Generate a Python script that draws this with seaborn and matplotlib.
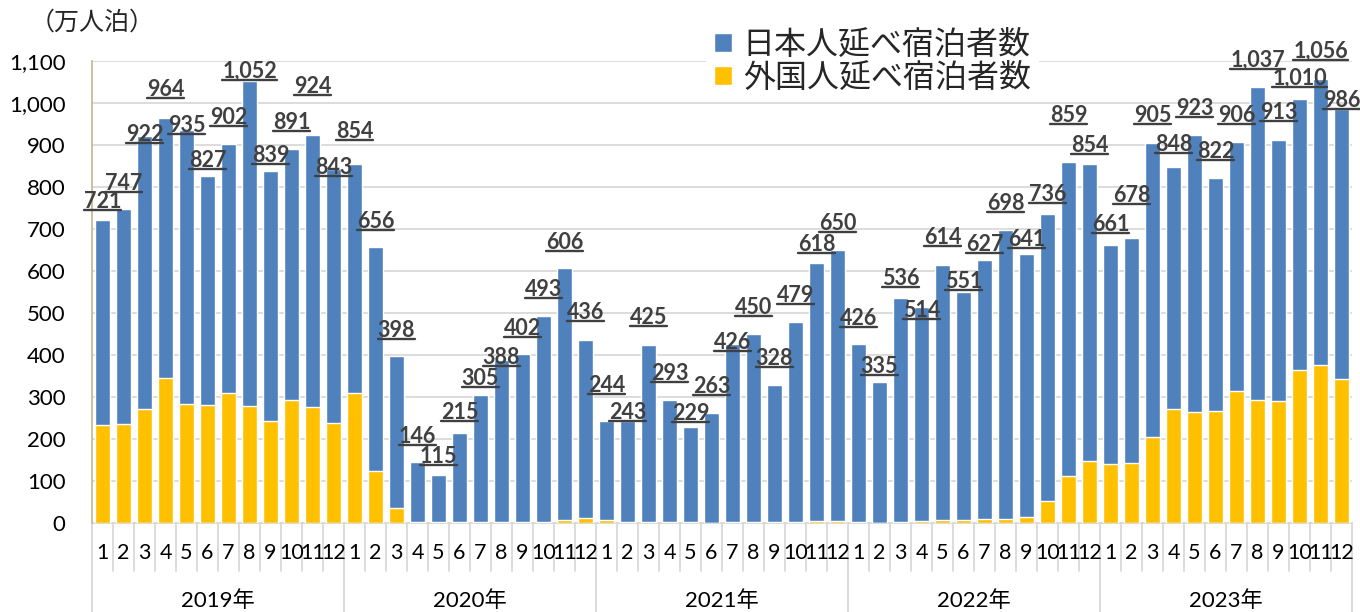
import numpy as np
import pandas as pd
import matplotlib
matplotlib.use("Agg")
import matplotlib.pyplot as plt
import matplotlib.transforms as mtransforms
from matplotlib.patches import Patch
from matplotlib.lines import Line2D
import seaborn as sns

sns.set_style("white")
plt.rcParams["font.family"] = ["Lato", "Noto Sans CJK JP", "DejaVu Sans"]

# ------------------------------------------------------------------
# data (万人泊)
# ------------------------------------------------------------------
years = ["2019年", "2020年", "2021年", "2022年", "2023年"]
months = list(range(1, 13))

total_2019 = [721, 747, 922, 964, 935, 827, 902, 1052, 839, 891, 924, 843]
total_2020 = [854, 656, 398, 146, 115, 215, 305, 388, 402, 493, 606, 436]
total_2021 = [244, 243, 425, 293, 229, 263, 426, 450, 328, 479, 618, 650]
total_2022 = [426, 335, 536, 514, 614, 551, 627, 698, 641, 736, 859, 854]
total_2023 = [661, 678, 905, 848, 923, 822, 906, 1037, 913, 1010, 1056, 986]

foreign_2019 = [233, 236, 271, 345, 284, 280, 310, 278, 243, 293, 276, 239]
foreign_2020 = [309, 125, 35, 3, 2, 2, 2, 2, 2, 3, 8, 12]
foreign_2021 = [7, 2, 3, 2, 2, 1, 2, 2, 2, 3, 4, 4]
foreign_2022 = [3, 1, 3, 5, 8, 7, 9, 10, 15, 52, 112, 148]
foreign_2023 = [140, 143, 205, 271, 264, 267, 314, 293, 291, 364, 376, 343]

# the data labels were nudged by hand in the original; vertical offset of
# each label's underline above its bar top (same units as the values)
label_offset = [
    19, 36, -21, 43, -14, 12, 38, -2, 10, 38, 90, -21,
    52, 37, 36, 36, 19, 24, 14, -19, 36, 38, 37, 40,
    58, -5, 39, 38, 7, 37, -21, 38, 38, 38, 19, 38,
    36, 12, 21, -33, 40, 0, 12, 38, 10, 21, 86, 19,
    24, 76, 40, 29, 40, 38, 40, 39, 39, 24, 42, -5,
]

totals = total_2019 + total_2020 + total_2021 + total_2022 + total_2023
foreign = foreign_2019 + foreign_2020 + foreign_2021 + foreign_2022 + foreign_2023

df = pd.DataFrame({
    "year": np.repeat(years, 12),
    "month": months * len(years),
    "total": totals,
    "foreign": foreign,
})
df["key"] = df["year"] + "-" + df["month"].astype(str)

BLUE = "#4F81BD"
YELLOW = "#FFC000"
LABEL = "#404040"
GRID = "#D9D9D9"
TAN = "#C4BD97"

# ------------------------------------------------------------------
# figure
# ------------------------------------------------------------------
W, H = 1360, 612
fig = plt.figure(figsize=(W / 100, H / 100), dpi=100)
ax = fig.add_axes([92 / W, (H - 523) / H, (1352 - 92) / W, (523 - 61) / H])

# stacked bars: total (blue) first, foreign (yellow) drawn over its base
sns.barplot(data=df, x="key", y="total", color=BLUE, saturation=1,
            width=0.67, ax=ax, zorder=2)
sns.barplot(data=df, x="key", y="foreign", color=YELLOW, saturation=1,
            width=0.67, ax=ax, zorder=3)

ax.set_xlim(-0.5, len(df) - 0.5)
ax.set_ylim(0, 1100)
ax.set_yticks(range(0, 1101, 100))
ax.set_yticklabels([f"{v:,}" for v in range(0, 1101, 100)], fontsize=16)
ax.set_xticks([])
ax.set_xlabel("")
ax.set_ylabel("")
ax.yaxis.grid(True, color=GRID, lw=1.3, zorder=0)
ax.set_axisbelow(True)
for s in ["top", "right", "bottom"]:
    ax.spines[s].set_visible(False)
ax.spines["left"].set_color(TAN)
ax.spines["left"].set_linewidth(1.3)
ax.tick_params(axis="y", colors=TAN, length=5, width=1.3, labelcolor="black", pad=14)

# two-level category axis
trans = mtransforms.blended_transform_factory(ax.transData, ax.transAxes)
for i, m in enumerate(df["month"]):
    ax.text(i, -0.066, str(m), transform=trans, ha="center", va="center",
            fontsize=15.5, color="black")
for i in range(len(df) + 1):
    bottom = -0.195 if i % 12 == 0 else -0.103
    ax.add_line(Line2D([i - 0.5, i - 0.5], [0, bottom], transform=trans,
                       color=GRID, lw=1.3, clip_on=False))
for k, y in enumerate(years):
    ax.text(k * 12 + 5.5, -0.168, y, transform=trans, ha="center", va="center",
            fontsize=16, color="black")
ax.add_line(Line2D([-0.5, len(df) - 0.5], [0, 0], transform=trans,
                   color=GRID, lw=1.3, clip_on=False, zorder=1))

# total labels, bold and underlined
labels = []
for i, (t, off) in enumerate(zip(df["total"], label_offset)):
    txt = ax.text(i, t + off, f"{t:,}", ha="center", va="bottom",
                  fontsize=15.5, fontweight="bold", color=LABEL, zorder=5)
    labels.append(txt)

fig.canvas.draw()
renderer = fig.canvas.get_renderer()
inv = ax.transData.inverted()
for txt in labels:
    bb = txt.get_window_extent(renderer)
    (x0, y0), (x1, _) = inv.transform([[bb.x0, bb.y0 + 2], [bb.x1, bb.y0 + 2]])
    ax.add_line(Line2D([x0, x1], [y0, y0], color=LABEL, lw=1.7, zorder=5,
                       clip_on=False))

# unit label and legend
fig.text(30 / W, 1 - 22 / H, "（万人泊）", fontsize=18, ha="left", va="center")
handles = [Patch(facecolor=BLUE, label="日本人延べ宿泊者数"),
           Patch(facecolor=YELLOW, label="外国人延べ宿泊者数")]
leg = fig.legend(handles=handles, loc="upper left",
                 bbox_to_anchor=(690 / W, 1 - 6 / H), fontsize=23,
                 frameon=True, facecolor="white", edgecolor="none",
                 framealpha=1, handlelength=0.55, handleheight=0.55,
                 handletextpad=0.35, labelspacing=0.1, borderpad=0.25)
leg.set_zorder(10)

fig.savefig("out.png", dpi=100)
